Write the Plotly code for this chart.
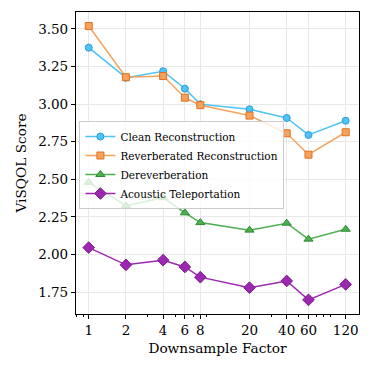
import plotly.graph_objects as go

# Data
factors = [1, 2, 4, 6, 8, 20, 40, 60, 120]
clean = [3.376, 3.176, 3.219, 3.103, 2.999, 2.966, 2.908, 2.795, 2.890]
reverb = [3.520, 3.179, 3.187, 3.043, 2.993, 2.924, 2.806, 2.664, 2.813]
dereverb = [2.480, 2.325, 2.378, 2.277, 2.212, 2.162, 2.208, 2.102, 2.168]
teleport = [2.046, 1.931, 1.962, 1.917, 1.849, 1.779, 1.824, 1.698, 1.801]

y_ticks = [1.75, 2.00, 2.25, 2.50, 2.75, 3.00, 3.25, 3.50]
minor_x = [0.8, 0.9, 3, 5, 7, 9, 30, 50, 70, 80, 90]

FONT = "DejaVu Serif"

series = [
    ("Clean Reconstruction", clean, "#4fc3f7", "#2b9ed6", "circle", 7),
    ("Reverberated Reconstruction", reverb, "#f5a25d", "#e07020", "square", 7),
    ("Dereverberation", dereverb, "#4caf50", "#2e8b36", "triangle-up", 8),
    ("Acoustic Teleportation", teleport, "#9c27b0", "#7b1f8c", "diamond", 9),
]

fig = go.Figure()
for name, vals, col, edge, sym, sz in series:
    fig.add_trace(go.Scatter(
        x=factors, y=vals, mode="lines+markers", name=name,
        line=dict(color=col, width=1.5),
        marker=dict(symbol=sym, size=sz, color=col, line=dict(color=edge, width=1)),
    ))

fig.update_layout(
    width=372, height=373,
    margin=dict(l=76, r=13, t=12, b=59),
    plot_bgcolor="white", paper_bgcolor="white",
    font=dict(family=FONT, size=13.5, color="black"),
    showlegend=True,
    legend=dict(
        x=0.012, y=0.639, xanchor="left", yanchor="top",
        bgcolor="rgba(255,255,255,0.8)", bordercolor="#cccccc", borderwidth=1,
        font=dict(family=FONT, size=10.5), tracegroupgap=0,
    ),
    xaxis=dict(
        type="log", range=[-0.103, 2.187],
        tickvals=factors, ticktext=[str(f) for f in factors],
        ticks="outside", ticklen=4, tickcolor="black",
        showgrid=True, gridcolor="#e8e8e8", gridwidth=1,
        showline=True, linecolor="black", linewidth=1.2, mirror=True,
        zeroline=False,
        minor=dict(tickvals=minor_x, ticks="outside", ticklen=2, tickcolor="black", showgrid=False),
        title=dict(text="Downsample Factor", standoff=6, font=dict(size=13.7)),
    ),
    yaxis=dict(
        range=[1.604, 3.613],
        tickvals=y_ticks, ticktext=[f"{v:.2f}" for v in y_ticks],
        ticks="outside", ticklen=4, tickcolor="black",
        showgrid=True, gridcolor="#e8e8e8", gridwidth=1,
        showline=True, linecolor="black", linewidth=1.2, mirror=True,
        zeroline=False,
        title=dict(text="ViSQOL Score", standoff=8, font=dict(size=13.7)),
    ),
)

# drop the browser's default 8px body margin so the chart sits at the page origin
fig.write_html("out.html", config={"displayModeBar": False},
               post_script="document.body.style.margin='0';")
